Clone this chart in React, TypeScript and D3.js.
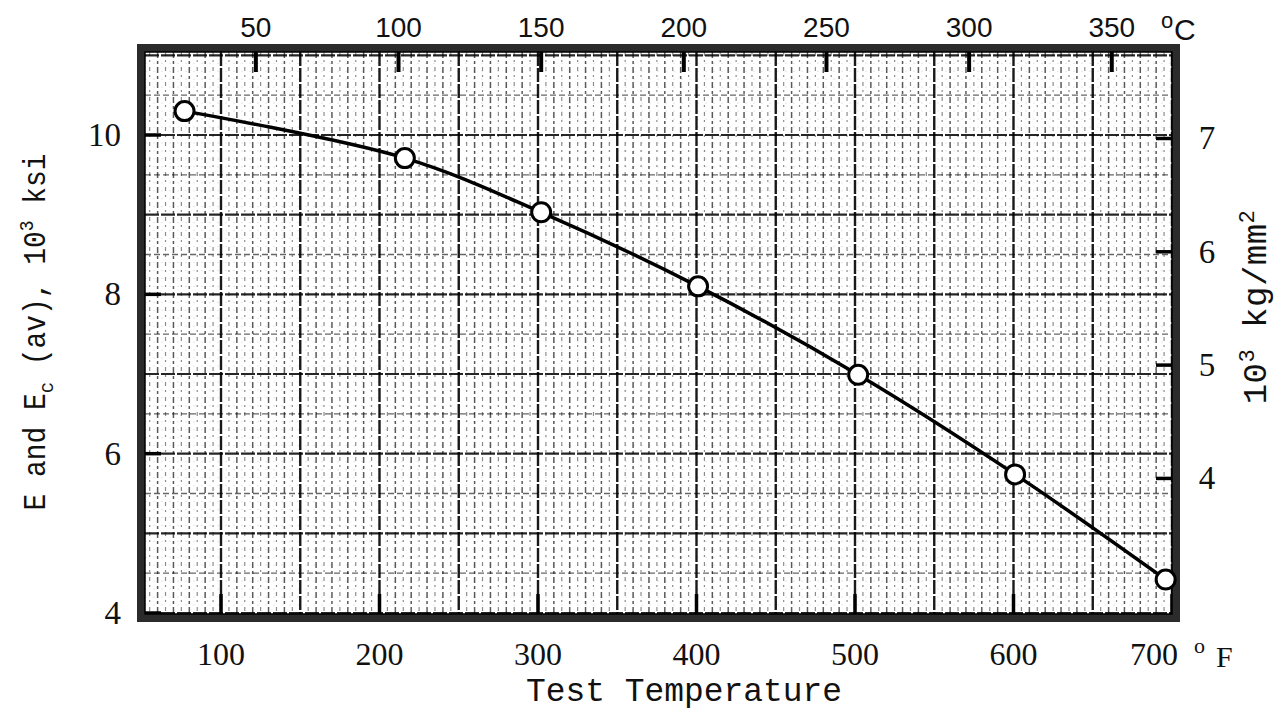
import React from 'react';
import * as d3 from 'd3';

// Data
const tempF = [77, 216, 302, 401, 502, 601, 696];
const modulusKsi = [10.3, 9.71, 9.03, 8.1, 6.99, 5.74, 4.42];

// Axis tick labels
const bottomTicksF = [100, 200, 300, 400, 500, 600, 700];
const topTicksC = [50, 100, 150, 200, 250, 300, 350];
const leftTicksKsi = [4, 6, 8, 10];
const rightTicksKg = [4, 5, 6, 7];

const W = 1282;
const H = 712;
const plot = { left: 145, right: 1172, top: 52, bottom: 614 };

const mono = '"Liberation Mono", "DejaVu Sans Mono", monospace';
const serif = '"Liberation Serif", "DejaVu Serif", serif';
const sans = '"Liberation Sans", Arial, sans-serif';

export default function App() {
  const x = d3.scaleLinear().domain([100, 700]).range([221, 1172]);
  const y = d3.scaleLinear().domain([4, 10]).range([613, 135]);
  const cToX = (c: number) => x((c * 9) / 5 + 32);
  const kgToKsi = (k: number) => k / 0.70307;

  const fMin = Math.ceil(x.invert(plot.left) / 5) * 5;
  const fMax = Math.floor(x.invert(plot.right) / 5) * 5;
  const vLines = d3.range(fMin, fMax + 0.01, 5);
  const kMin = Math.ceil(y.invert(plot.bottom) * 10) / 10;
  const kMax = Math.floor(y.invert(plot.top) * 10) / 10;
  const hLines = d3.range(Math.round(kMin * 10), Math.round(kMax * 10) + 1).map((v) => v / 10);

  const pts = tempF.map((f, i) => [x(f), y(modulusKsi[i])] as [number, number]);
  const line = d3.line().curve(d3.curveCatmullRom.alpha(0.5))(pts) || '';

  const vStyle = (f: number) => {
    if (f % 50 === 0) return { w: 2.4, o: 0.9, d: '14 2' };
    if (f % 10 === 0) return { w: 1.5, o: 0.65, d: '6 3 3 3' };
    return { w: 1.2, o: 0.45, d: '4 4 2 5' };
  };
  const hStyle = (k: number) => {
    const t = Math.round(k * 10);
    if (t % 10 === 0) return { w: 2.2, o: 0.85, d: '14 2' };
    if (t % 5 === 0) return { w: 1.4, o: 0.6, d: '6 3' };
    return { w: 0.8, o: 0.12, d: '2 6' };
  };

  return (
    <svg width={W} height={H} style={{ position: 'absolute', left: 0, top: 0, background: '#fff' }}>
      <rect x={0} y={0} width={W} height={H} fill="#fff" />
      <defs>
        <clipPath id="plotClip">
          <rect x={plot.left} y={plot.top} width={plot.right - plot.left} height={plot.bottom - plot.top} />
        </clipPath>
      </defs>
      <g clipPath="url(#plotClip)">
        {hLines.map((k) => {
          const s = hStyle(k);
          return (
            <line key={'h' + k} x1={plot.left} x2={plot.right} y1={y(k)} y2={y(k)}
              stroke="#000" strokeOpacity={s.o} strokeWidth={s.w} strokeDasharray={s.d} />
          );
        })}
        {vLines.map((f) => {
          const s = vStyle(f);
          return (
            <line key={'v' + f} x1={x(f)} x2={x(f)} y1={plot.top} y2={plot.bottom}
              stroke="#000" strokeOpacity={s.o} strokeWidth={s.w} strokeDasharray={s.d} />
          );
        })}
      </g>

      {/* heavy tick marks on the frame */}
      {topTicksC.map((c) => (
        <line key={'tt' + c} x1={cToX(c)} x2={cToX(c)} y1={plot.top} y2={plot.top + 20} stroke="#000" strokeWidth={4} />
      ))}
      {bottomTicksF.map((f) => (
        <line key={'bt' + f} x1={x(f)} x2={x(f)} y1={plot.bottom} y2={plot.bottom - 20} stroke="#000" strokeWidth={3.5} />
      ))}
      {leftTicksKsi.map((k) => (
        <line key={'lt' + k} x1={plot.left} x2={plot.left + 16} y1={y(k)} y2={y(k)} stroke="#000" strokeWidth={3.5} />
      ))}
      {rightTicksKg.map((k) => (
        <line key={'rt' + k} x1={plot.right} x2={plot.right - 16} y1={y(kgToKsi(k))} y2={y(kgToKsi(k))} stroke="#000" strokeWidth={3.5} />
      ))}

      {/* frame */}
      <rect x={141} y={48} width={1035} height={570} fill="none" stroke="#2b2b2b" strokeWidth={8} />
      <rect x={plot.left} y={plot.top} width={plot.right - plot.left} height={plot.bottom - plot.top} fill="none" stroke="#000" strokeWidth={1.5} />

      {/* data curve */}
      <path d={line} fill="none" stroke="#000" strokeWidth={3.5} />
      {pts.map((p, i) => (
        <circle key={'c' + i} cx={p[0]} cy={p[1]} r={9.5} fill="#fff" stroke="#000" strokeWidth={3} />
      ))}

      {/* top axis (deg C) */}
      {topTicksC.map((c) => (
        <text key={'tl' + c} x={cToX(c)} y={37} textAnchor="middle" fontFamily={sans} fontSize={28} fill="#111">{c}</text>
      ))}
      <text x={1161} y={28} fontFamily={sans} fontSize={22} fill="#111">o</text>
      <text x={1174} y={40} fontFamily={sans} fontSize={30} fill="#111">C</text>

      {/* bottom axis (deg F) */}
      {bottomTicksF.map((f) => (
        <text key={'bl' + f} x={x(f) - (f === 700 ? 18 : 0)} y={665} textAnchor="middle" fontFamily={serif} fontSize={32} fill="#111">{f}</text>
      ))}
      <text x={1194} y={653} fontFamily={serif} fontSize={22} fill="#111">o</text>
      <text x={1216} y={667} fontFamily={serif} fontSize={30} fill="#111">F</text>
      <text x={(526 + 842) / 2} y={701} textAnchor="middle" fontFamily={mono} fontSize={34} fill="#111" textLength={316} lengthAdjust="spacingAndGlyphs">Test  Temperature</text>

      {/* left axis */}
      {leftTicksKsi.map((k) => (
        <text key={'ll' + k} x={121} y={y(k) + 11} textAnchor="end" fontFamily={serif} fontSize={33} fill="#111">{k}</text>
      ))}
      <text transform="translate(45,332) rotate(-90) scale(0.9,1)" textAnchor="middle" fontFamily={mono} fontSize={31} fill="#111">
        E and E<tspan fontSize={21} dy={8}>c</tspan><tspan dy={-8}> (av), 10</tspan><tspan fontSize={20} dy={-12}>3</tspan><tspan dy={12}> ksi</tspan>
      </text>

      {/* right axis */}
      {rightTicksKg.map((k) => (
        <text key={'rl' + k} x={1207} y={y(kgToKsi(k)) + 11} textAnchor="middle" fontFamily={serif} fontSize={33} fill="#111">{k}</text>
      ))}
      <text transform="translate(1266,307) rotate(-90)" textAnchor="middle" fontFamily={mono} fontSize={34} fill="#111" letterSpacing={0.5}>
        10<tspan fontSize={22} dy={-12}>3</tspan><tspan dy={12}> kg/mm</tspan><tspan fontSize={22} dy={-12}>2</tspan>
      </text>
    </svg>
  );
}
